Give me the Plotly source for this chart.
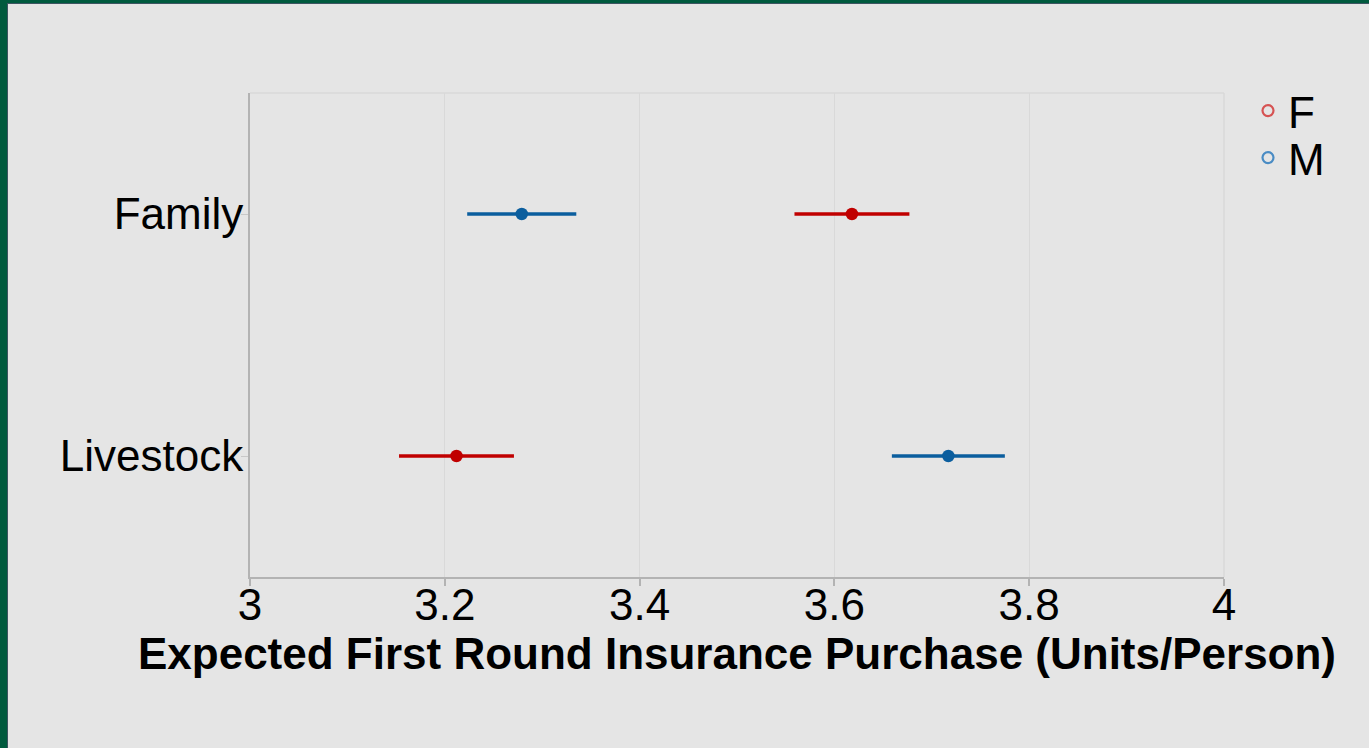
import plotly.graph_objects as go

# Estimated first-round insurance purchase by category and gender
categories = ["Family", "Livestock"]
groups = ["F", "M"]
est_F = [3.618, 3.212]
err_F = [0.059, 0.059]
est_M = [3.279, 3.717]
err_M = [0.056, 0.058]

x_ticks = [3, 3.2, 3.4, 3.6, 3.8, 4]
x_tick_text = ["3", "3.2", "3.4", "3.6", "3.8", "4"]

dot_colors = {"F": "#c00000", "M": "#0b5e9e"}
key_colors = {"F": "#d65353", "M": "#4a8cc4"}

W, H = 1369, 748
L, R, T, B = 250, 145, 93, 171
pw, ph = W - L - R, H - T - B


def px_x(p):
    return (p - L) / pw


def px_y(p):
    return 1 - (p - T) / ph


fig = go.Figure()

values = {"F": (est_F, err_F), "M": (est_M, err_M)}
for g in groups:
    est, err = values[g]
    fig.add_trace(go.Scatter(
        x=est, y=categories, mode="markers", showlegend=False,
        marker=dict(color=dot_colors[g], size=12.5),
        error_x=dict(type="data", array=err, color=dot_colors[g],
                     thickness=3.5, width=0),
    ))

# Legend keys: open circles, one legend box per group
for g, leg in zip(groups, ["legend", "legend2"]):
    fig.add_trace(go.Scatter(
        x=[None], y=[None], mode="markers", name=g, legend=leg,
        marker=dict(symbol="circle-open", size=11, color=key_colors[g],
                    line=dict(width=2.2, color=key_colors[g])),
    ))

font = "Liberation Sans, Arial, Helvetica, sans-serif"
bg = "#e5e5e5"
grid = "#d9d9d9"
axis_col = "#b3b3b3"

legend_common = dict(
    xanchor="left", yanchor="middle", bgcolor="rgba(0,0,0,0)",
    font=dict(family=font, size=44, color="#000000"),
    itemwidth=30, borderwidth=0,
)

fig.update_layout(
    width=W, height=H,
    margin=dict(l=L, r=R, t=T, b=B, pad=0),
    paper_bgcolor=bg, plot_bgcolor=bg,
    font=dict(family=font, color="#000000"),
    legend=dict(x=px_x(1248), y=px_y(111), **legend_common),
    legend2=dict(x=px_x(1248), y=px_y(158), **legend_common),
    xaxis=dict(
        range=[3, 4], tickvals=x_ticks, ticktext=x_tick_text,
        showgrid=True, gridcolor=grid, gridwidth=1.2,
        showline=True, linecolor=axis_col, linewidth=2, mirror=False,
        ticks="outside", ticklen=7, tickwidth=1.5, tickcolor=axis_col,
        ticklabelstandoff=-19,
        tickfont=dict(size=44, family=font, color="#000000"),
        zeroline=False,
        title=dict(text="<b>Expected First Round Insurance Purchase (Units/Person)</b>",
                   font=dict(size=44, family=font, color="#000000"), standoff=4),
    ),
    yaxis=dict(
        type="category", categoryorder="array",
        categoryarray=["Livestock", "Family"], range=[-0.5, 1.5],
        showgrid=False, showline=True, linecolor=axis_col, linewidth=2,
        ticks="outside", ticklen=7, tickwidth=1.2, tickcolor="#c8c8c8",
        ticklabelstandoff=-11,
        tickfont=dict(size=44, family=font, color="#000000"),
        zeroline=False,
    ),
    shapes=[
        # faint frame on top and right of the plotting area
        dict(type="line", xref="paper", yref="paper", x0=0, x1=1, y0=1, y1=1,
             line=dict(color=grid, width=1.5), layer="below"),
        dict(type="line", xref="paper", yref="paper", x0=1, x1=1, y0=0, y1=1,
             line=dict(color=grid, width=1.5), layer="below"),
        # dark green window border along left and top edges
        dict(type="rect", xref="paper", yref="paper",
             x0=px_x(0), x1=px_x(8), y0=px_y(H), y1=px_y(0),
             fillcolor="#005a3e", line=dict(width=0)),
        dict(type="rect", xref="paper", yref="paper",
             x0=px_x(0), x1=px_x(W), y0=px_y(3), y1=px_y(0),
             fillcolor="#005a3e", line=dict(width=0)),
        dict(type="line", xref="paper", yref="paper",
             x0=px_x(7.5), x1=px_x(7.5), y0=px_y(H), y1=px_y(3),
             line=dict(color="#3d5562", width=1)),
        dict(type="line", xref="paper", yref="paper",
             x0=px_x(7.5), x1=px_x(W), y0=px_y(3.5), y1=px_y(3.5),
             line=dict(color="#3d5562", width=1)),
    ],
)

fig.write_html("out.html")
